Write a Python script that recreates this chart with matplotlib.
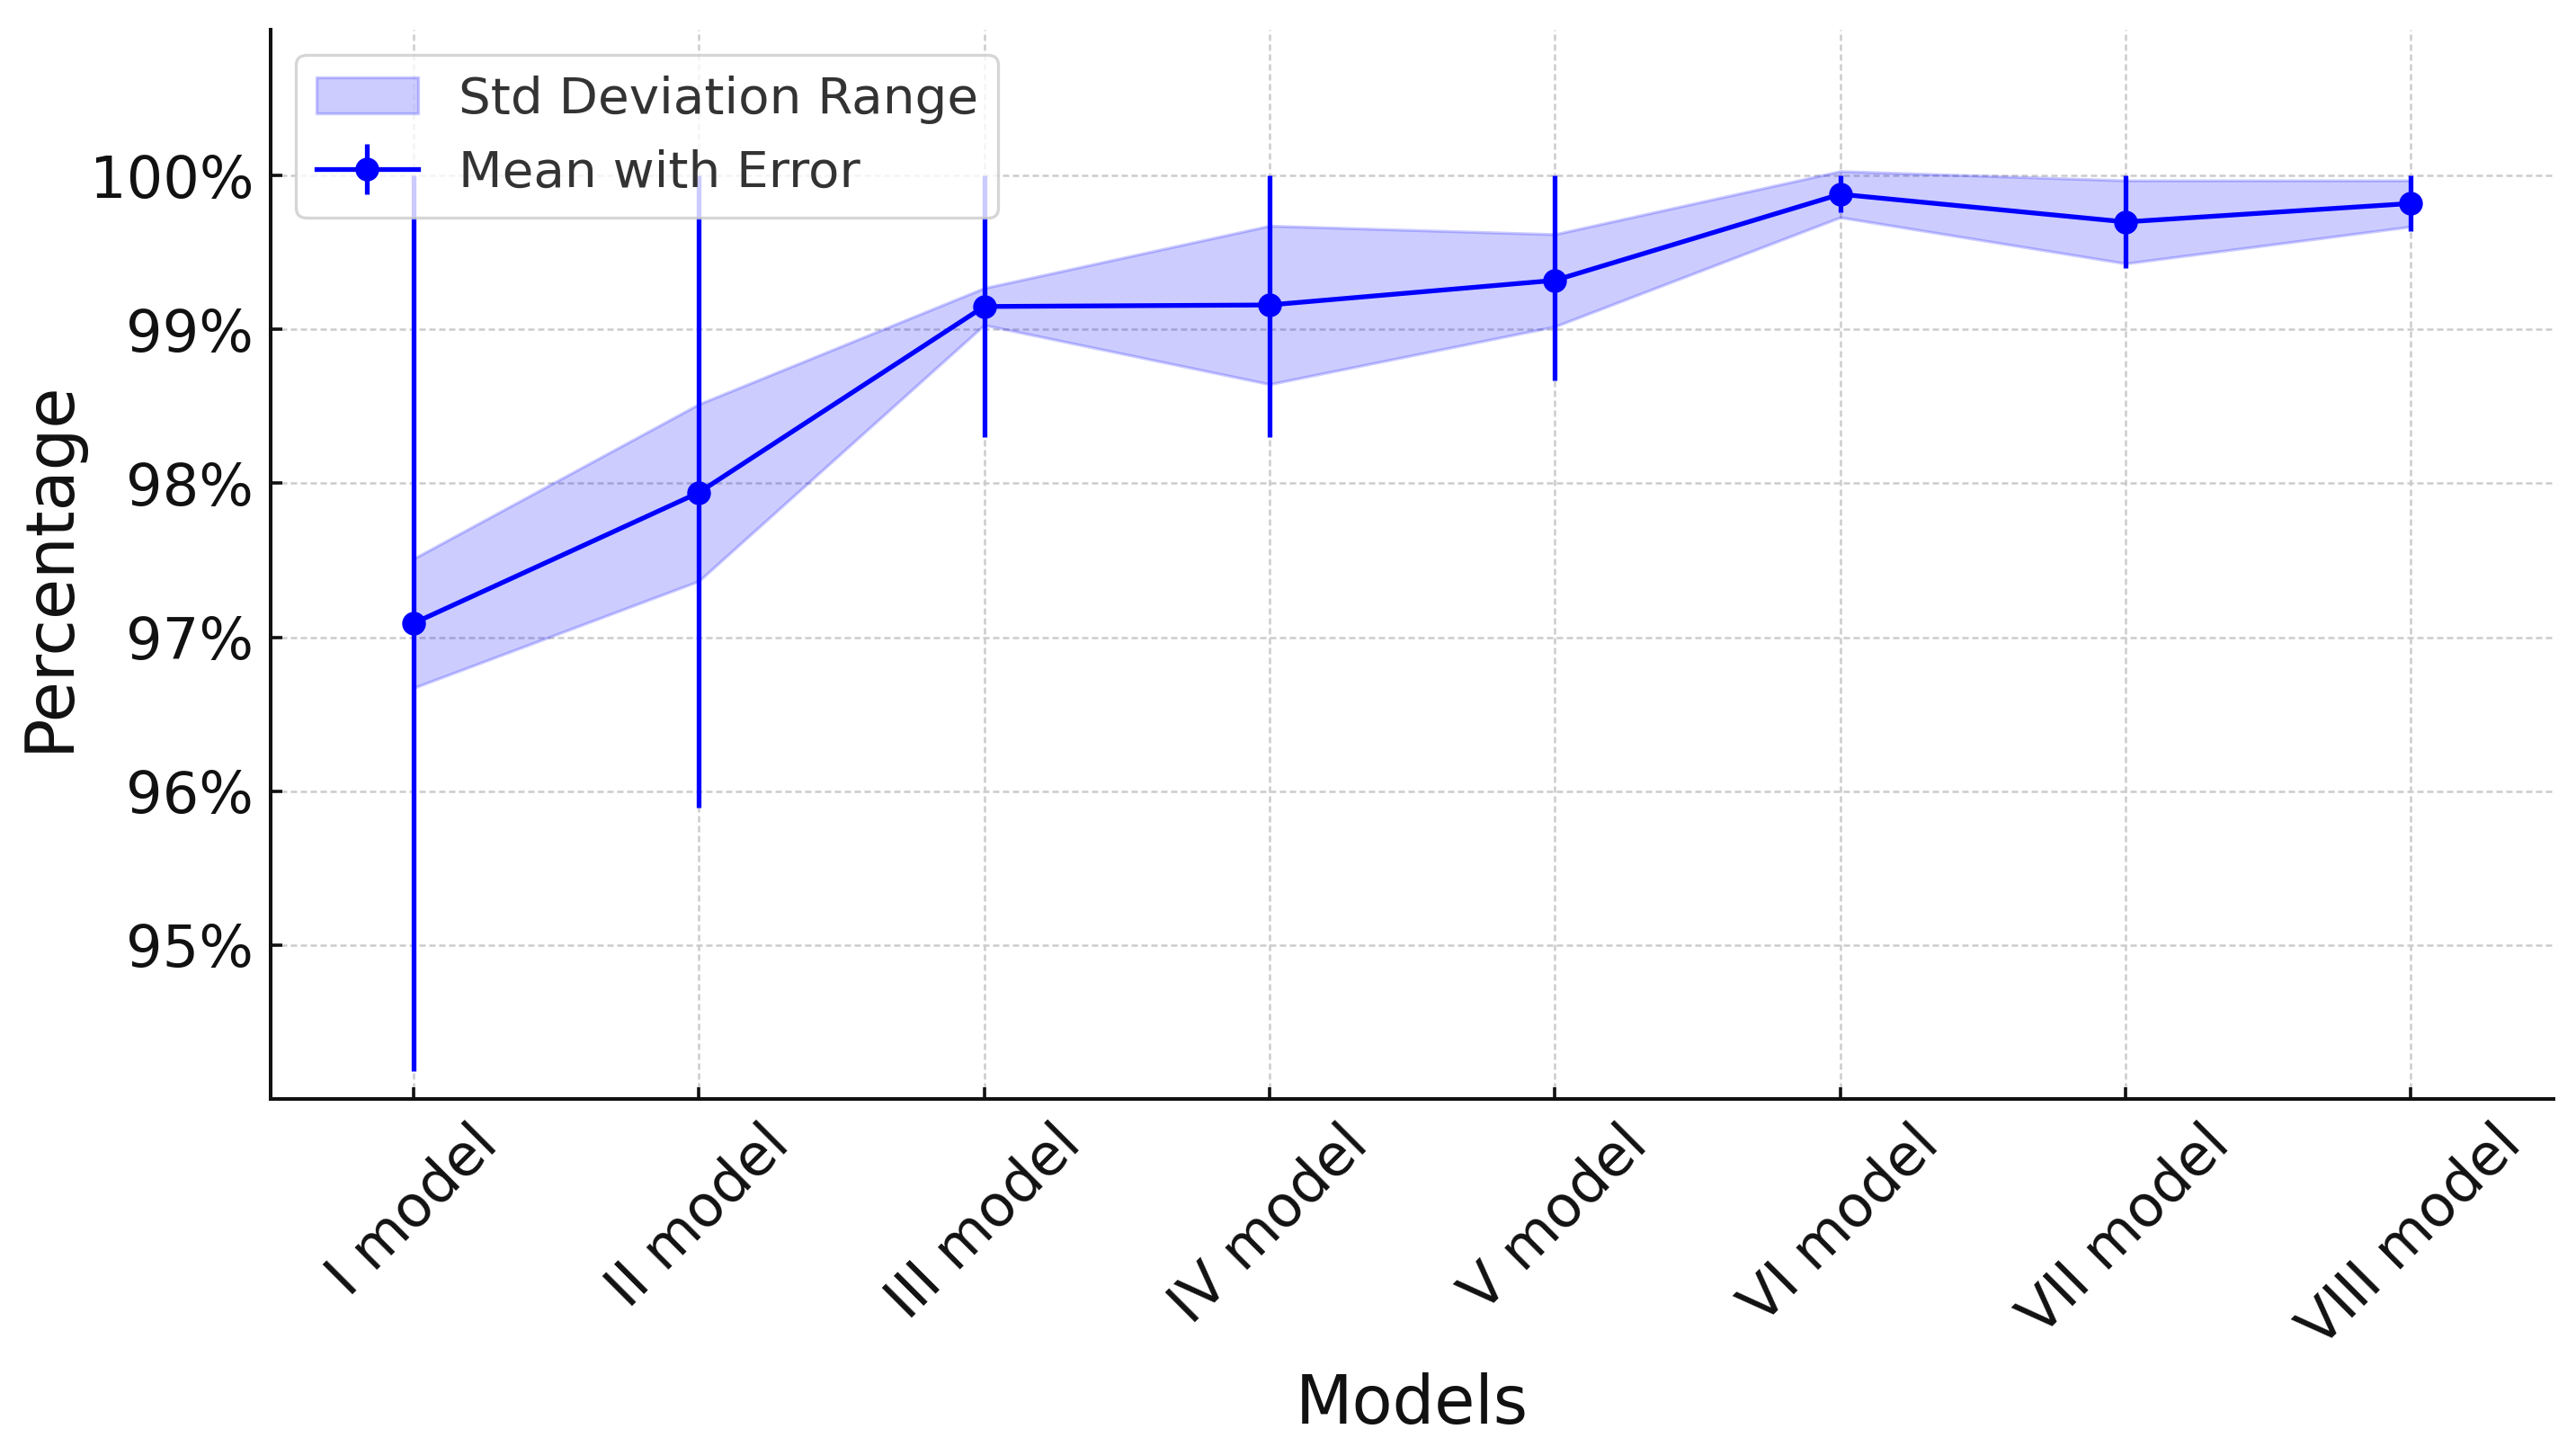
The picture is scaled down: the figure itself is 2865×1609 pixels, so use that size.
import matplotlib
matplotlib.use("Agg")
import matplotlib.pyplot as plt
from matplotlib.ticker import FuncFormatter

# values (percent)
models = ["I model", "II model", "III model", "IV model",
          "V model", "VI model", "VII model", "VIII model"]
means = [97.09, 97.94, 99.15, 99.16, 99.32, 99.88, 99.70, 99.82]
stds = [0.42, 0.575, 0.12, 0.515, 0.30, 0.15, 0.27, 0.15]
lows = [94.18, 95.89, 98.30, 98.30, 98.67, 99.76, 99.40, 99.64]
highs = [100.0, 100.0, 100.0, 100.0, 100.0, 100.0, 100.0, 100.0]
yticks = [95, 96, 97, 98, 99, 100]

x = list(range(len(models)))
upper = [m + s for m, s in zip(means, stds)]
lower = [m - s for m, s in zip(means, stds)]
err_lo = [m - l for m, l in zip(means, lows)]
err_hi = [h - m for m, h in zip(means, highs)]

fig, ax = plt.subplots(figsize=(14.325, 8.045), dpi=200)
plt.subplots_adjust(left=0.1051, right=0.9913, top=0.9795, bottom=0.2408)

ax.fill_between(x, lower, upper, color="blue", alpha=0.2, lw=1.2,
                label="Std Deviation Range", zorder=2)
ax.errorbar(x, means, yerr=[err_lo, err_hi], fmt="-o", color="blue",
            lw=1.9, elinewidth=1.9, markersize=8.5, capsize=0,
            label="Mean with Error", zorder=3)

ax.set_xlim(-0.5, 7.5)
ax.set_ylim(94.0, 100.95)
ax.set_yticks(yticks)
ax.yaxis.set_major_formatter(FuncFormatter(lambda v, p: f"{v:.0f}%"))
ax.set_xticks(x)
ax.set_xticklabels(models, rotation=45)

ax.tick_params(direction="in", length=4.7, width=1.3, labelsize=23,
               pad=6.8, color="#111111", labelcolor="#111111")
ax.set_xlabel("Models", fontsize=26.5, color="#111111")
ax.set_ylabel("Percentage", fontsize=26.5, color="#111111")
ax.xaxis.set_label_coords(0.5, -0.3042)
ax.xaxis.label.set_verticalalignment("baseline")
ax.yaxis.set_label_coords(-0.0886, 0.4985)
ax.yaxis.label.set_verticalalignment("baseline")

ax.grid(True, linestyle=(0, (2.8, 1.6)), color="#cccccc", lw=0.9, zorder=0)
for s in ["top", "right"]:
    ax.spines[s].set_visible(False)
for s in ["left", "bottom"]:
    ax.spines[s].set_linewidth(1.45)
    ax.spines[s].set_color("#111111")

leg = ax.legend(loc="upper left", fontsize=20.3, labelcolor="#333333",
                edgecolor="#cccccc", framealpha=0.8)
leg.get_frame().set_linewidth(1.2)

plt.savefig("out.png", dpi=200)
